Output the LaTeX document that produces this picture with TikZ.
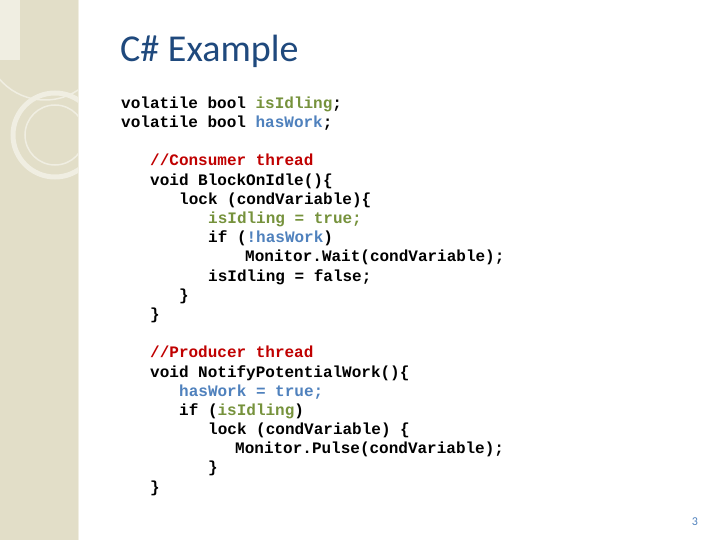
\documentclass[tikz,border=0pt]{standalone}
\usepackage{fontspec}
\setmonofont{Liberation Mono}
\newfontfamily\titlefont{Carlito}
\begin{document}
\begin{tikzpicture}[x=1pt,y=-1pt,
  code/.style={anchor=west,inner sep=0pt,font=\ttfamily\bfseries\fontsize{16}{16}\selectfont},
  every node/.append style={text depth=0pt}]
\definecolor{titleblue}{RGB}{31,73,125}
\definecolor{cmt}{RGB}{192,0,0}
\definecolor{grn}{RGB}{118,146,60}
\definecolor{blu}{RGB}{79,129,189}
\definecolor{strip}{RGB}{226,222,200}
\definecolor{ring}{RGB}{240,238,226}
\useasboundingbox (0,0) rectangle (720,540);
\fill[white] (0,0) rectangle (720,540);
\fill[strip] (0,0) rectangle (78,540);
\begin{scope}
\clip (0,0) rectangle (78,540);
\draw[ring,line width=1.5pt] (45,40) circle (60);
\draw[ring,line width=5pt] (55,135) circle (42);
\draw[ring,line width=1.5pt] (55,135) circle (30);
\fill[ring] (0,0) rectangle (20,60);
\end{scope}
\draw[ring,line width=1pt] (78,0) -- (78,540);
\node[anchor=west,inner sep=0pt,font=\titlefont\fontsize{38}{38}\selectfont,text=titleblue] (title) at (120,48) {C\# Example};
\node[code] (l1) at (121,103) {volatile bool \textcolor{grn}{isIdling};};
\node[code] (l2) at (121,122) {volatile bool \textcolor{blu}{hasWork};};
\node[code,text=cmt] (l3) at (150,160) {//Consumer thread};
\node[code] (l4) at (150,180) {void BlockOnIdle()\{};
\node[code] (l5) at (179,199) {lock (condVariable)\{};
\node[code,text=grn] (l6) at (208,218) {isIdling = true;};
\node[code] (l7) at (208,237) {if (\textcolor{blu}{!hasWork})};
\node[code] (l8) at (245,256) {Monitor.Wait(condVariable);};
\node[code] (l9) at (208,276) {isIdling = false;};
\node[code] (l10) at (179,295) {\}};
\node[code] (l11) at (150,314) {\}};
\node[code,text=cmt] (l12) at (150,352) {//Producer thread};
\node[code] (l13) at (150,372) {void NotifyPotentialWork()\{};
\node[code,text=blu] (l14) at (179,391) {hasWork = true;};
\node[code] (l15) at (179,410) {if (\textcolor{grn}{isIdling})};
\node[code] (l16) at (208,429) {lock (condVariable) \{};
\node[code] (l17) at (235,448) {Monitor.Pulse(condVariable);};
\node[code] (l18) at (208,467) {\}};
\node[code] (l19) at (150,487) {\}};
\node[font=\titlefont\fontsize{12}{12}\selectfont,text=blu] (pg) at (695,522) {3};
\end{tikzpicture}
\end{document}
